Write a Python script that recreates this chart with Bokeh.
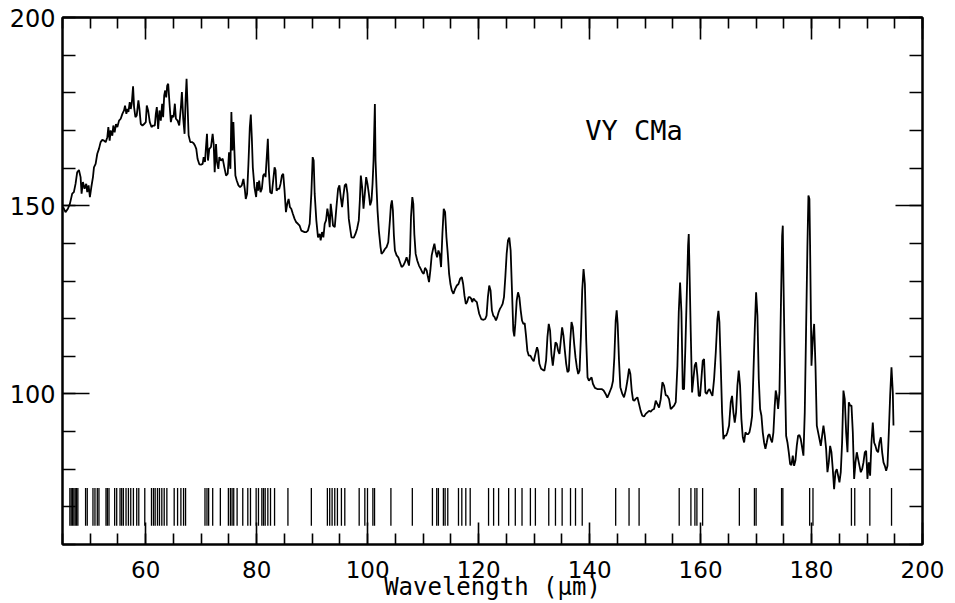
from bokeh.plotting import figure
from bokeh.models import Range1d, LinearAxis, SingleIntervalTicker
from bokeh.embed import file_html
from bokeh.resources import INLINE
from bokeh.core.properties import value

# ---------------- data ----------------
WAVELENGTH = [
    45.12, 45.54, 45.97, 46.33, 46.75, 47.05, 47.35, 47.65, 47.96, 48.26, 48.44, 48.68, 48.98, 49.28,
    49.46, 49.70, 49.94, 50.19, 50.49, 50.67, 50.97, 51.27, 51.57, 51.87, 52.17, 52.48, 52.78, 53.08,
    53.26, 53.50, 53.68, 53.98, 54.16, 54.40, 54.64, 54.89, 55.19, 55.49, 55.79, 56.09, 56.27, 56.51,
    56.70, 56.88, 57.12, 57.30, 57.48, 57.72, 57.90, 58.14, 58.38, 58.68, 58.87, 59.11, 59.41, 59.71,
    60.01, 60.19, 60.43, 60.73, 61.04, 61.34, 61.64, 61.82, 62.00, 62.24, 62.48, 62.72, 62.96, 63.14,
    63.33, 63.51, 63.69, 63.87, 64.05, 64.29, 64.53, 64.77, 65.01, 65.25, 65.44, 65.74, 66.04, 66.34,
    66.52, 66.76, 67.00, 67.18, 67.36, 67.55, 67.73, 68.03, 68.33, 68.63, 68.87, 69.11, 69.35, 69.66,
    69.96, 70.26, 70.44, 70.68, 70.86, 71.04, 71.22, 71.46, 71.76,
    72.06, 72.25, 72.43, 72.67, 72.85, 73.09, 73.27, 73.57, 73.87, 74.17, 74.48, 74.78, 75.02, 75.26,
    75.44, 75.62, 75.80, 75.98, 76.16, 76.40, 76.71, 77.01, 77.31, 77.61, 77.85, 78.03, 78.27, 78.51,
    78.76, 78.94, 79.12, 79.30, 79.60, 79.90, 80.08, 80.26, 80.44, 80.69, 80.93, 81.17, 81.41, 81.59,
    81.83, 82.01, 82.19, 82.43, 82.73, 82.97, 83.22, 83.40, 83.58, 83.82, 84.06, 84.30, 84.54, 84.78,
    85.02, 85.27, 85.51, 85.75, 85.99, 86.23, 86.53, 86.83, 87.13, 87.43, 87.74, 88.04, 88.34, 88.64,
    88.94, 89.24, 89.55, 89.85, 90.09, 90.27, 90.45, 90.75, 91.05, 91.35, 91.53, 91.78, 92.02, 92.26,
    92.50, 92.74, 92.98, 93.16, 93.34, 93.52, 93.76, 94.07, 94.37, 94.67, 94.91, 95.15, 95.39, 95.63,
    95.87, 96.12, 96.36, 96.60, 96.90, 97.08,
    97.50, 97.80, 98.10, 98.40, 98.59, 98.77, 99.01, 99.25, 99.49, 99.73, 99.97, 100.21, 100.45, 100.69,
    100.88, 101.06, 101.30, 101.42, 101.60, 101.78, 102.02, 102.32, 102.50, 102.80, 103.11, 103.41,
    103.71, 104.01, 104.19, 104.37, 104.55, 104.73, 104.91, 105.22, 105.52, 105.82, 106.12, 106.42,
    106.72, 107.02, 107.20, 107.45, 107.63, 107.81, 108.05, 108.23, 108.41, 108.65, 108.95, 109.25,
    109.56, 109.86, 110.10, 110.34, 110.64, 110.82, 111.06, 111.30, 111.54, 111.79, 112.03, 112.27,
    112.51, 112.75, 112.99, 113.23, 113.47, 113.71, 113.96, 114.20, 114.44, 114.68, 114.92, 115.16,
    115.46, 115.76, 116.07, 116.37, 116.67, 116.97, 117.21, 117.45, 117.69, 117.93, 118.18, 118.42,
    118.66, 118.84, 119.08, 119.38, 119.68, 119.86, 120.10, 120.47, 120.89, 121.19, 121.43, 121.67,
    121.91, 122.15, 122.39, 122.64, 122.88, 123.12, 123.36, 123.60, 123.84, 124.08, 124.32, 124.57,
    124.81, 125.05, 125.29, 125.53, 125.77, 126.01, 126.25, 126.43, 126.61, 126.86, 127.10, 127.34,
    127.58, 127.82, 128.06, 128.30, 128.54, 128.78, 129.03, 129.33, 129.63, 129.93, 130.23, 130.53,
    130.71, 130.95, 131.26, 131.56, 131.86, 132.16, 132.40, 132.64, 132.88, 133.12, 133.37, 133.61,
    133.85, 134.09, 134.33, 134.57, 134.81, 135.05, 135.29, 135.54, 135.78, 136.02, 136.26, 136.50,
    136.74, 136.98, 137.22, 137.46, 137.70, 137.95, 138.19, 138.43, 138.67, 138.91, 139.15, 139.39,
    139.63, 139.88, 140.12, 140.36, 140.60, 140.96, 141.38, 141.80, 142.17, 142.53, 142.89, 143.19,
    143.49, 143.73, 143.97, 144.22, 144.46, 144.70, 144.88, 145.06, 145.30, 145.54, 145.90, 146.20,
    146.51, 146.81, 147.11, 147.35, 147.59, 147.83, 148.07, 148.31, 148.62, 149.20, 149.50,
    149.82, 150.12, 150.42, 150.72, 151.02, 151.32, 151.62, 151.92, 152.22, 152.52, 152.82, 153.12,
    153.42, 153.72, 154.02, 154.32, 154.62, 154.92, 155.23, 155.53, 155.83, 156.07, 156.31, 156.55,
    156.79, 157.03, 157.27, 157.51, 157.75, 157.87, 157.99, 158.23, 158.47, 158.71, 158.95, 159.19,
    159.43, 159.67, 159.91, 160.15, 160.39, 160.63, 160.87, 161.11, 161.36, 161.60, 161.84, 162.14,
    162.44, 162.74, 163.04, 163.22, 163.40, 163.64, 163.88, 164.12, 164.36, 164.60, 164.84, 165.14,
    165.44, 165.68, 165.92, 166.16, 166.40, 166.64, 166.88, 167.12, 167.36, 167.61, 167.85, 168.09,
    168.33, 168.57, 168.81, 169.05, 169.29, 169.53, 169.77, 170.01, 170.25, 170.49, 170.73, 170.97,
    171.21, 171.45, 171.69, 171.93, 172.17, 172.41, 172.65, 172.89, 173.13, 173.37, 173.55, 173.74,
    173.98, 174.22, 174.46, 174.70, 174.82, 174.94, 175.18, 175.42, 175.66, 175.90, 176.14, 176.38,
    176.62, 176.86, 177.10, 177.34, 177.58, 177.82, 178.06, 178.30, 178.54, 178.78, 179.02, 179.26,
    179.44, 179.62, 179.74, 179.99, 180.23, 180.47, 180.71, 180.95, 181.19, 181.43, 181.67, 181.91,
    182.15, 182.39, 182.63, 182.87, 183.11, 183.35, 183.59, 183.83, 184.07, 184.31, 184.55, 184.79,
    185.03, 185.27, 185.51, 185.75, 185.99, 186.24, 186.48, 186.72, 186.96, 187.20, 187.44, 187.68,
    187.92, 188.16, 188.40, 188.64, 188.88, 189.12, 189.36, 189.60, 189.84, 190.08, 190.32, 190.56,
    190.80, 191.04, 191.28, 191.52, 191.76, 192.00, 192.24, 192.49, 192.73, 192.97, 193.21, 193.45,
    193.69, 193.93, 194.17, 194.41, 194.65, 194.77,
]

FLUX = [
    149.6, 148.3, 149.2, 150.5, 153.2, 153.6, 155.8, 158.9, 159.5, 157.6, 153.2, 156.3, 154.5, 155.8,
    153.6, 155.4, 152.3, 154.9, 157.6, 160.2, 161.1, 163.8, 165.1, 166.9, 167.5, 167.3, 166.9, 168.2,
    170.9, 167.3, 170.0, 168.6, 171.3, 169.5, 171.7, 170.9, 172.6, 173.1, 174.4, 175.3, 176.6, 174.4,
    175.7, 174.9, 177.5, 175.7, 177.1, 181.7, 176.2, 173.5, 174.0, 178.0, 175.7, 171.7, 171.3, 171.7,
    172.2, 176.6, 175.3, 172.2, 170.9, 171.3, 171.3, 174.4, 176.2, 170.4, 175.3, 172.6, 177.1, 173.5,
    179.3, 180.6, 178.8, 181.9, 182.4, 177.1, 172.2, 174.0, 173.5, 177.1, 173.1, 172.6, 171.3, 176.2,
    180.2, 173.1, 169.1, 177.9, 183.7, 176.2, 168.7, 166.9, 166.9, 166.6, 166.0, 165.1, 162.4, 161.0,
    160.9, 161.1, 162.9, 161.6, 165.6, 169.1, 162.0, 165.1, 165.6,
    169.1, 166.4, 158.9, 166.4, 161.6, 159.8, 162.9, 162.0, 162.5, 160.2, 158.0, 158.5, 164.2, 159.8,
    174.9, 164.7, 172.2, 164.7, 158.0, 156.7, 155.4, 154.9, 155.4, 157.1, 154.5, 151.8, 153.2, 161.1,
    170.9, 174.2, 168.2, 160.2, 154.9, 152.3, 156.3, 154.0, 156.7, 153.6, 154.5, 158.0, 158.5, 157.6,
    163.3, 167.8, 159.4, 153.6, 153.2, 156.7, 160.2, 159.4, 154.0, 154.5, 154.5, 155.8, 158.0, 158.5,
    154.0, 148.3, 150.5, 151.8, 149.6, 149.2, 147.8, 146.5, 145.6, 145.2, 144.7, 143.4, 143.2, 143.0,
    143.0, 143.4, 145.2, 153.2, 162.9, 162.0, 153.2, 146.1, 141.6, 142.5, 140.8, 143.0, 141.6, 145.2,
    146.1, 149.2, 147.0, 144.3, 150.5, 148.3, 144.7, 144.3, 149.6, 154.5, 155.4, 152.3, 149.6, 152.7,
    155.4, 155.8, 153.2, 146.5, 143.4, 141.6,
    141.5, 142.5, 143.9, 146.1, 151.4, 158.0, 154.9, 149.2, 153.2, 157.6, 155.8, 153.2, 150.1, 151.4,
    155.8, 162.0, 177.0, 162.0, 154.9, 148.7, 143.4, 139.0, 137.2, 137.7, 138.5, 139.0,
    140.3, 146.1, 150.1, 151.4, 148.7, 142.1, 138.1, 136.8, 136.3, 135.0, 133.7, 134.1,
    135.0, 136.3, 135.4, 134.1, 137.2, 147.0, 152.3, 150.5, 142.5, 137.2, 135.4, 134.1,
    133.2, 132.3, 131.9, 133.5, 132.8, 131.4, 129.7, 132.8, 136.8, 138.5, 139.9, 137.7,
    136.3, 138.1, 137.2, 133.7, 142.5, 149.2, 148.3, 141.6, 137.2, 131.9, 129.2, 127.5,
    126.6, 127.9, 128.8, 129.2, 130.6, 131.0, 129.2, 126.1, 123.9, 124.4, 125.7, 125.7,
    125.3, 124.4, 125.3, 124.8, 124.4, 123.0, 121.3, 119.9, 119.7, 119.9, 120.8, 125.7,
    128.8, 127.5, 122.2, 120.8, 120.4, 119.5, 120.4, 121.7, 122.6, 123.2, 123.9, 125.7,
    131.0, 137.2, 140.8, 141.5, 138.1, 127.5, 116.8, 115.3, 118.6, 124.8, 127.0, 125.7,
    122.2, 119.5, 118.6, 118.8, 115.5, 111.5, 110.2, 110.2, 109.3, 108.7, 110.6, 112.4,
    111.5, 108.0, 106.7, 106.4, 106.2, 108.9, 115.1, 118.6, 116.8, 110.6, 107.5, 110.6,
    113.7, 113.3, 111.5, 110.6, 114.2, 117.7, 115.5, 111.5, 108.0, 105.8, 106.2, 113.7,
    119.1, 117.7, 113.3, 109.7, 107.1, 105.3, 106.2, 115.1, 127.5, 133.2, 129.2, 114.2,
    104.4, 103.5, 104.0, 104.4, 102.7, 101.6, 101.3, 101.3, 101.3, 100.9, 100.0, 99.0,
    100.0, 100.9, 101.8, 103.5, 109.7, 119.5, 122.2, 118.6, 108.9, 101.8, 100.0, 99.1,
    100.9, 103.5, 106.7, 105.3, 100.9, 98.4, 98.2, 98.7, 99.1, 95.5, 94.2,
    94.0, 94.7, 95.1, 95.5, 95.3, 95.8, 96.0, 98.2, 97.3, 96.4, 98.6, 103.1,
    102.2, 99.7, 99.5, 98.6, 96.0, 96.4, 96.9, 97.8, 107.5, 121.7, 129.6, 121.7,
    101.3, 101.3, 112.8, 126.1, 139.4, 142.5, 134.1, 116.4, 100.4, 104.0, 107.5, 108.4,
    104.8, 99.5, 99.5, 104.0, 108.8, 109.3, 100.4, 100.0, 100.9, 101.3, 100.4, 99.5,
    104.0, 111.0, 119.9, 122.1, 119.0, 107.5, 95.1, 88.0, 88.9, 88.9, 89.8, 91.6,
    97.8, 99.5, 95.1, 92.4, 95.1, 102.2, 106.2, 102.2, 93.3, 88.5, 87.1, 89.8,
    89.3, 89.3, 89.8, 91.6, 94.2, 105.7, 117.2, 127.0, 120.8, 104.0, 96.0, 94.2,
    89.8, 87.1, 85.4, 87.1, 88.9, 89.3, 88.0, 87.1, 89.8, 96.9, 100.9, 99.5,
    96.0, 100.4, 121.7, 142.0, 144.7, 130.5, 107.5, 88.9, 87.1, 84.5, 81.4, 81.1,
    83.6, 80.9, 82.3, 86.2, 88.9, 89.1, 88.0, 85.8, 83.6, 95.1, 117.2, 139.4,
    152.7, 151.8, 139.4, 107.5, 114.6, 118.6, 107.5, 91.6, 89.8, 88.0, 86.2, 88.9,
    91.6, 88.9, 85.4, 79.2, 81.8, 86.2, 84.5, 80.0, 74.7, 79.2, 80.0, 78.3,
    76.5, 79.2, 87.1, 100.9, 98.6, 89.8, 84.5, 97.8, 96.9, 96.9, 89.8, 77.4,
    81.8, 84.5, 82.7, 80.9, 79.2, 80.0, 81.8, 84.5, 84.9, 77.4, 81.8, 78.3,
    87.1, 92.4, 87.1, 86.2, 84.9, 84.5, 87.1, 88.5, 84.5, 81.8, 80.9, 79.6,
    80.9, 89.8, 99.5, 107.1, 100.4, 91.6,
]

# wavelengths of the line markers drawn along the bottom
LINE_POSITIONS = [
    46.33, 46.57, 46.81, 47.05, 47.29, 47.53, 47.77, 49.16, 49.46, 50.49, 50.85, 51.27, 51.57,
    52.84, 53.08, 53.38, 54.40, 54.77, 55.37, 55.67, 55.97, 56.45, 56.88, 57.30, 57.78, 58.38,
    58.75, 59.83, 61.04, 61.40, 61.70, 62.12, 62.48, 62.90, 63.33, 63.81, 65.13, 65.74, 66.34,
    66.82, 67.18, 70.68, 71.04, 71.34, 72.07, 73.45, 74.90, 75.26, 75.56, 75.86, 76.47, 77.49,
    78.40, 78.88, 79.90, 80.32, 80.93, 81.23, 81.53, 82.01, 82.49, 83.22, 85.63, 89.85, 92.74,
    93.16, 93.59, 94.07, 94.55, 95.27, 95.88, 98.47, 99.49, 99.97, 100.94, 101.24, 104.19,
    108.05, 111.67, 112.45, 112.75, 113.65, 113.96, 114.44, 116.37, 116.97, 117.69, 118.48,
    121.79, 122.70, 123.60, 125.41, 126.61, 127.82, 129.33, 130.23, 132.64, 133.85, 135.05,
    136.56, 137.46, 138.67, 144.70, 147.11, 148.92, 156.15, 158.26, 158.98, 159.34, 160.37,
    166.99, 169.71, 170.01, 174.60, 174.83, 179.66, 180.26, 187.19, 187.79, 190.51, 194.42,
]
LINE_LOW = 65.0
LINE_HIGH = 75.0

X_RANGE = (45, 200)
Y_RANGE = (60, 200)
X_LABEL = "Wavelength (μm)"
STAR_NAME = "VY CMa"
STAR_X = 139.2
STAR_Y = 170.0

# ---------------- figure ----------------
p = figure(width=955, height=603, output_backend="svg", toolbar_location=None,
           x_range=Range1d(*X_RANGE), y_range=Range1d(*Y_RANGE),
           x_axis_location=None, y_axis_location=None,
           min_border_left=62, min_border_right=33, min_border_top=17, min_border_bottom=59,
           background_fill_color="white", border_fill_color="white")
p.outline_line_color = "black"
p.outline_line_width = 2
try:
    p.xgrid.visible = False
    p.ygrid.visible = False
except Exception:
    pass


def style_axis(ax, major_len, minor_len, labels):
    ax.axis_line_color = "black"
    ax.axis_line_width = 2
    ax.major_tick_in = major_len
    ax.major_tick_out = 0
    ax.minor_tick_in = minor_len
    ax.minor_tick_out = 0
    ax.major_tick_line_color = "black"
    ax.minor_tick_line_color = "black"
    ax.major_tick_line_width = 1.6
    ax.minor_tick_line_width = 1.6
    if not labels:
        ax.major_label_text_font_size = "1px"
        ax.major_label_text_color = None
        ax.major_label_text_alpha = 0
        ax.major_label_standoff = 0


bottom = LinearAxis(ticker=SingleIntervalTicker(interval=20, num_minor_ticks=4), axis_label=X_LABEL)
style_axis(bottom, 22, 11, True)
bottom.major_label_text_font = "DejaVu Sans"
bottom.major_label_text_font_size = "23px"
bottom.major_label_text_color = "black"
bottom.major_label_standoff = 16
bottom.axis_label_text_font = "DejaVu Sans Mono"
bottom.axis_label_text_font_size = "24px"
bottom.axis_label_text_font_style = "normal"
bottom.axis_label_text_color = "black"
bottom.axis_label_standoff = -8
p.add_layout(bottom, "below")

top = LinearAxis(ticker=SingleIntervalTicker(interval=20, num_minor_ticks=4))
style_axis(top, 22, 11, False)
p.add_layout(top, "above")

left = LinearAxis(ticker=SingleIntervalTicker(interval=50, num_minor_ticks=5))
style_axis(left, 27, 13, True)
left.major_label_text_font = "DejaVu Sans"
left.major_label_text_font_size = "24px"
left.major_label_text_color = "black"
left.major_label_standoff = 7
p.add_layout(left, "left")

right = LinearAxis(ticker=SingleIntervalTicker(interval=50, num_minor_ticks=5))
style_axis(right, 27, 13, False)
p.add_layout(right, "right")

# spectrum
p.line(WAVELENGTH, FLUX, line_color="black", line_width=1.8)

# line markers
n = len(LINE_POSITIONS)
p.segment(x0=LINE_POSITIONS, y0=[LINE_LOW] * n, x1=LINE_POSITIONS, y1=[LINE_HIGH] * n,
          line_color="black", line_width=1.3)

# star label
p.text(x=[STAR_X], y=[STAR_Y], text=[STAR_NAME], text_font=value("DejaVu Sans Mono"),
       text_font_size="27px", text_baseline="middle", text_align="left", text_color="black")

open("out.html", "w").write(file_html(p, INLINE))
